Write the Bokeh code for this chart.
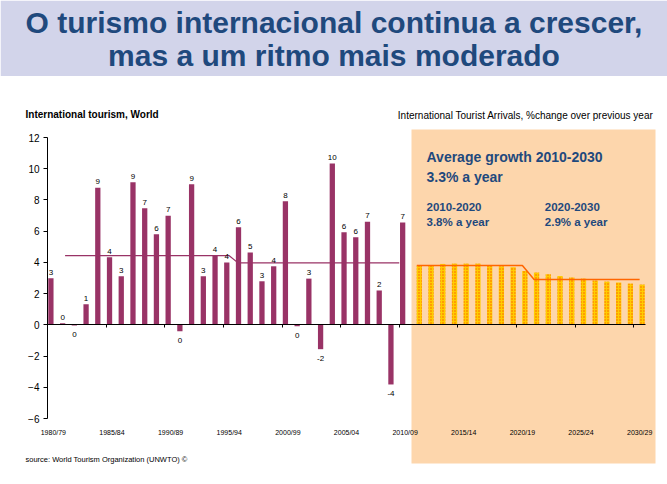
import numpy as np
from bokeh.plotting import figure
from bokeh.models import (Range1d, FixedTicker, BoxAnnotation, Label,
                          ColumnDataSource, LinearAxis)
from bokeh.core.properties import value
from bokeh.transform import dodge
from bokeh.embed import file_html
from bokeh.resources import INLINE

# ---------------- data ----------------
title_lines = ["O turismo internacional continua a crescer,",
               "mas a um ritmo mais moderado"]
left_header = "International tourism, World"
right_header = "International Tourist Arrivals, %change over previous year"
source_note = "source: World Tourism Organization (UNWTO) \u00a9"
box_title = ["Average growth 2010-2030", "3.3% a year"]
box_left = ["2010-2020", "3.8% a year"]
box_right = ["2020-2030", "2.9% a year"]

hist_years = list(range(1980, 2011))
hist_growth = [2.98, 0.1, -0.05, 1.32, 8.78, 4.33, 3.11, 9.13, 7.46, 5.80,
               6.99, -0.41, 9.0, 3.11, 4.41, 4.0, 6.25, 4.63, 2.79, 3.75,
               7.91, -0.09, 2.96, -1.56, 10.34, 5.93, 5.61, 6.61, 2.2, -3.82,
               6.55]
fc_years = list(range(2011, 2031))
fc_growth = [3.80, 3.80, 3.90, 3.92, 3.92, 3.92, 3.80, 3.75, 3.69, 3.45,
             3.35, 3.24, 3.13, 3.03, 2.96, 2.84, 2.77, 2.71, 2.64, 2.58]

hist_avg_x = [1981, 1995, 1995.75, 2009.5]
hist_avg_y = [4.43, 4.43, 3.97, 3.97]
fc_avg_x = [2011, 2020, 2021, 2030]
fc_avg_y = [3.8, 3.8, 2.9, 2.9]

tick_years = list(range(1980, 2031, 5))
tick_labels = ["1980/79", "1985/84", "1990/89", "1995/94", "2000/99", "2005/04",
               "2010/09", "2015/14", "2020/19", "2025/24", "2030/29"]
y_ticks = list(range(-6, 13, 2))

# ---------------- layout ----------------
W, H = 667, 484
PL, PR, PT, PB = 47, 645, 137, 418      # plot area in page pixels
X0, X1 = 1979.5, 2030.5
Y0, Y1 = -6, 12
SX = (X1 - X0) / (PR - PL)
SY = (Y1 - Y0) / (PB - PT)
XS, XE = X0 - PL * SX, X1 + (W - PR) * SX
YS, YE = Y0 - (H - PB) * SY, Y1 + PT * SY


def cx(px):
    return XS + px * SX


def cy(py):
    return YE - py * SY


SANS = "Liberation Sans"
BLUE = "#1F497D"
PLUM = "#993366"

p = figure(width=W, height=H, output_backend="svg", toolbar_location=None,
           x_range=Range1d(XS, XE), y_range=Range1d(YS, YE),
           x_axis_location=None, y_axis_location=None,
           min_border=0, background_fill_color="white",
           border_fill_color="white", outline_line_color=None)
p.xgrid.visible = False
p.ygrid.visible = False

# background boxes
p.add_layout(BoxAnnotation(left=cx(0), right=cx(W), top=cy(0), bottom=cy(75.5),
                           fill_color="#D2D4EA", fill_alpha=1.0, line_color=None,
                           level="underlay"))
p.add_layout(BoxAnnotation(left=cx(411), right=cx(655), top=cy(129), bottom=cy(463),
                           fill_color="#FDD6AC", fill_alpha=1.0, line_color=None,
                           level="underlay"))

# y axis (drawn at the left edge of the plot area)
yaxis = LinearAxis(fixed_location=X0, bounds=(Y0, Y1),
                   ticker=FixedTicker(ticks=y_ticks),
                   major_tick_out=4, major_tick_in=0,
                   minor_tick_line_color=None, axis_line_color="black",
                   major_tick_line_color="black",
                   major_label_text_font=SANS, major_label_text_font_size="10px",
                   major_label_text_color="black", major_label_standoff=4)
p.add_layout(yaxis, "left")

# category axis crossing at zero, ticks between the 5-year groups
bounds = [y + 4.5 for y in tick_years[:-1]]
zaxis = LinearAxis(fixed_location=0, bounds=(X0, X1),
                   ticker=FixedTicker(ticks=bounds),
                   major_tick_out=3, major_tick_in=0,
                   minor_tick_line_color=None, axis_line_color="black",
                   major_tick_line_color="black",
                   major_label_overrides={b: "" for b in bounds},
                   major_label_text_font_size="1px")
p.add_layout(zaxis, "below")

# period labels at the bottom of the plot area
laxis = LinearAxis(fixed_location=Y0, ticker=FixedTicker(ticks=tick_years),
                   major_label_overrides={y: l for y, l in zip(tick_years, tick_labels)},
                   axis_line_color=None, major_tick_line_color=None,
                   minor_tick_line_color=None, major_tick_out=0, major_tick_in=0,
                   major_label_standoff=10, major_label_text_font=SANS,
                   major_label_text_font_size="7px", major_label_text_color="black")
p.add_layout(laxis, "below")

# bars
hist_src = ColumnDataSource(dict(x=hist_years, top=hist_growth))
p.vbar(x=dodge("x", -0.21, range=p.x_range), top="top", width=0.45,
       source=hist_src, fill_color=PLUM, line_color=None)
fc_src = ColumnDataSource(dict(x=fc_years, top=fc_growth))
p.vbar(x=dodge("x", 0.21, range=p.x_range), top="top", width=0.45,
       source=fc_src, fill_color="#FFCC00", line_color=None,
       hatch_pattern="dot", hatch_color="#FF5A00", hatch_scale=3, hatch_weight=2.5)

# average lines
p.line(hist_avg_x, hist_avg_y, line_color=PLUM, line_width=1.2)
p.line(fc_avg_x, fc_avg_y, line_color="#FF6600", line_width=1.5)

# value labels
hv = np.array(hist_growth)
lbl = [str(int(np.round(v))) for v in hv]
pos = hv >= 0
pos_src = ColumnDataSource(dict(x=np.array(hist_years)[pos], y=hv[pos],
                                t=[l for l, m in zip(lbl, pos) if m]))
neg_src = ColumnDataSource(dict(x=np.array(hist_years)[~pos], y=hv[~pos],
                                t=[l for l, m in zip(lbl, pos) if not m]))
p.text(x=dodge("x", -0.21, range=p.x_range), y="y", text="t", source=pos_src,
       text_font=value(SANS), text_font_size="8px", text_color="black",
       text_align="center", text_baseline="bottom", y_offset=-3.5)
p.text(x=dodge("x", -0.21, range=p.x_range), y="y", text="t", source=neg_src,
       text_font=value(SANS), text_font_size="8px", text_color="black",
       text_align="center", text_baseline="top", y_offset=6.5)


def label(px, py, text, size, color="black", bold=False, align="left"):
    p.add_layout(Label(x=cx(px), y=cy(py), text=text, text_font=SANS,
                       text_font_size=size, text_color=color,
                       text_font_style="bold" if bold else "normal",
                       text_align=align, text_baseline="middle"))


# title
label(333.5, 22, title_lines[0], "30px", BLUE, True, "center")
label(333.5, 54.5, title_lines[1], "30px", BLUE, True, "center")

# headers and source
label(25, 114.3, left_header, "10px", "black", True)
label(653, 115, right_header, "10px", "black", False, "right")
label(25, 459.3, source_note, "7.5px")

# annotations inside the forecast box
label(426, 156.7, box_title[0], "14px", BLUE, True)
label(426, 176, box_title[1], "14px", BLUE, True)
label(426, 206, box_left[0], "11.5px", BLUE, True)
label(426, 221.7, box_left[1], "11.5px", BLUE, True)
label(544.3, 206, box_right[0], "11.5px", BLUE, True)
label(544.3, 221.7, box_right[1], "11.5px", BLUE, True)

open("out.html", "w").write(file_html(p, INLINE))
